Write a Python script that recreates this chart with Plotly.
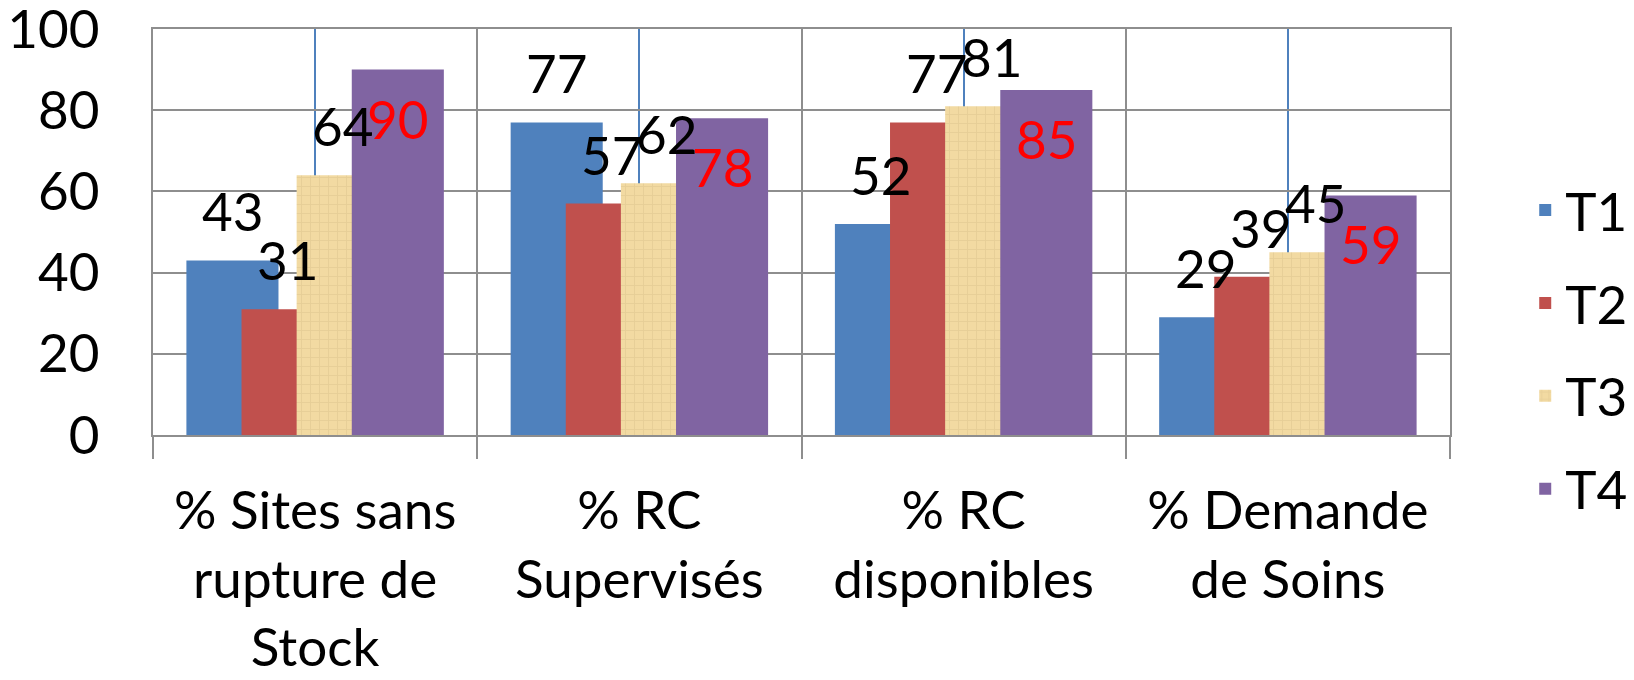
import plotly.graph_objects as go

# ---- data ----
categories = ["% Sites sans<br>rupture de<br>Stock", "% RC<br>Supervisés", "% RC<br>disponibles", "% Demande<br>de Soins"]
series_names = ["T1", "T2", "T3", "T4"]
t1 = [43, 77, 52, 29]
t2 = [31, 57, 77, 39]
t3 = [64, 62, 81, 45]
t4 = [90, 78, 85, 59]
y_ticks = [0, 20, 40, 60, 80, 100]

series_values = [t1, t2, t3, t4]
colors = ["#4F81BD", "#C0504D", "#F0D8A0", "#8064A2"]
label_colors = ["black", "black", "black", "#FF0000"]

FONT = "Lato"
FS = 53

# bar geometry (category units): overlapping bars, Excel-like overlap
W = 0.284
STEP = 0.17
START = -(3 * STEP + W) / 2

xpos = list(range(len(categories)))

fig = go.Figure()
for k, (name, vals) in enumerate(zip(series_names, series_values)):
    marker = dict(color=colors[k], line=dict(width=0))
    if name == "T3":
        marker["pattern"] = dict(shape="+", fgcolor="#D6BE86", bgcolor="#F2DAA2",
                                 size=9, solidity=0.18, fgopacity=0.45)
    fig.add_trace(go.Bar(
        x=xpos, y=vals, name=name,
        offset=START + k * STEP, width=W,
        marker=marker, legendgroup=name,
        hoverinfo="skip",
    ))
    for i, v in zip(xpos, vals):
        cx = i + START + k * STEP + W / 2
        if name == "T4":
            fig.add_annotation(x=cx, y=v, text=str(v), showarrow=False,
                               yanchor="top", yshift=-15,
                               font=dict(family=FONT, size=FS, color=label_colors[k]))
        else:
            fig.add_annotation(x=cx, y=v, text=str(v), showarrow=False,
                               yanchor="bottom", yshift=16,
                               font=dict(family=FONT, size=FS, color=label_colors[k]))

GRID = "#8E8E8E"
fig.update_layout(
    width=1618, height=664,
    margin=dict(l=145, r=176, t=21, b=237, pad=0, autoexpand=False),
    plot_bgcolor="white", paper_bgcolor="white",
    barmode="overlay",
    font=dict(family=FONT, size=FS, color="black"),
    showlegend=True,
    legend=dict(x=1.058, y=0.655, xanchor="left", yanchor="top",
                font=dict(family=FONT, size=FS), tracegroupgap=21,
                traceorder="grouped", bgcolor="rgba(0,0,0,0)"),
    xaxis=dict(
        range=[-0.5, 3.5], tickmode="array", tickvals=xpos, ticktext=categories,
        ticks="", showgrid=True, gridcolor="#4F81BD", gridwidth=1.5,
        showline=True, linecolor=GRID, linewidth=2, mirror=True,
        zeroline=False, ticklabelstandoff=28, automargin=False,
        minor=dict(tick0=-0.5, dtick=1, showgrid=True, gridcolor=GRID, gridwidth=2,
                   ticks="outside", ticklen=22, tickwidth=2, tickcolor=GRID),
        tickfont=dict(family=FONT, size=FS),
    ),
    yaxis=dict(
        range=[0, 100], tickmode="array", tickvals=y_ticks,
        showgrid=True, gridcolor=GRID, gridwidth=2,
        showline=True, linecolor=GRID, linewidth=2, mirror=True,
        zeroline=False, ticks="", ticklabelstandoff=41, automargin=False,
        ticklabeloverflow="allow",
        tickfont=dict(family=FONT, size=FS),
    ),
)

fig.write_html("out.html")
